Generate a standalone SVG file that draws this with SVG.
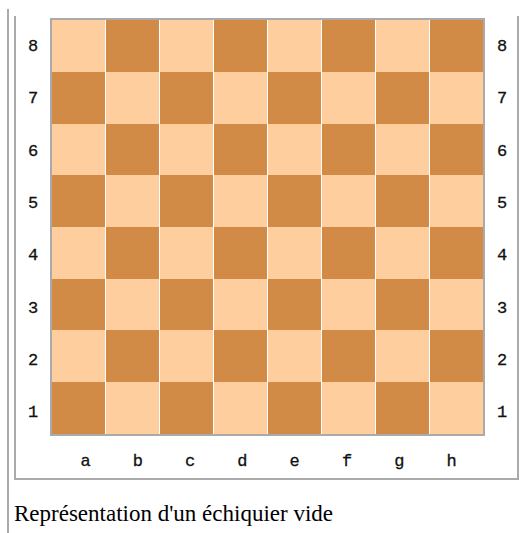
<svg xmlns="http://www.w3.org/2000/svg" width="520" height="533" viewBox="0 0 520 533">
<style>
.frame{fill:none;stroke:#aaaaaa;stroke-width:2}
.lt{fill:#ffce9e}
.dk{fill:#d18b47}
.lbl{font-family:"Liberation Mono","Courier New",monospace;font-size:17px;fill:#111;text-anchor:middle;stroke:#111;stroke-width:0.3}
.cap{font-family:"Liberation Serif","Times New Roman",serif;font-size:23px;fill:#000}
</style>
<rect x="0" y="0" width="520" height="533" fill="#fff"/>
<g id="frame">
<line class="frame" x1="8" y1="9" x2="8" y2="533"/>
<polyline class="frame" points="15,16 15,479 518,479 518,16"/>
</g>
<g id="board">
<rect x="51" y="19" width="433" height="416" fill="#fff" stroke="#aaaaaa" stroke-width="2"/>
<g id="rank8">
<rect class="lt" x="52" y="20" width="53" height="52"/><rect class="dk" x="106" y="20" width="53" height="52"/><rect class="lt" x="160" y="20" width="53" height="52"/><rect class="dk" x="214" y="20" width="53" height="52"/><rect class="lt" x="268" y="20" width="53" height="52"/><rect class="dk" x="322" y="20" width="53" height="52"/><rect class="lt" x="376" y="20" width="53" height="52"/><rect class="dk" x="430" y="20" width="53" height="52"/>
</g>
<g id="rank7">
<rect class="dk" x="52" y="72" width="53" height="52"/><rect class="lt" x="106" y="72" width="53" height="52"/><rect class="dk" x="160" y="72" width="53" height="52"/><rect class="lt" x="214" y="72" width="53" height="52"/><rect class="dk" x="268" y="72" width="53" height="52"/><rect class="lt" x="322" y="72" width="53" height="52"/><rect class="dk" x="376" y="72" width="53" height="52"/><rect class="lt" x="430" y="72" width="53" height="52"/>
</g>
<g id="rank6">
<rect class="lt" x="52" y="124" width="53" height="51"/><rect class="dk" x="106" y="124" width="53" height="51"/><rect class="lt" x="160" y="124" width="53" height="51"/><rect class="dk" x="214" y="124" width="53" height="51"/><rect class="lt" x="268" y="124" width="53" height="51"/><rect class="dk" x="322" y="124" width="53" height="51"/><rect class="lt" x="376" y="124" width="53" height="51"/><rect class="dk" x="430" y="124" width="53" height="51"/>
</g>
<g id="rank5">
<rect class="dk" x="52" y="175" width="53" height="52"/><rect class="lt" x="106" y="175" width="53" height="52"/><rect class="dk" x="160" y="175" width="53" height="52"/><rect class="lt" x="214" y="175" width="53" height="52"/><rect class="dk" x="268" y="175" width="53" height="52"/><rect class="lt" x="322" y="175" width="53" height="52"/><rect class="dk" x="376" y="175" width="53" height="52"/><rect class="lt" x="430" y="175" width="53" height="52"/>
</g>
<g id="rank4">
<rect class="lt" x="52" y="227" width="53" height="52"/><rect class="dk" x="106" y="227" width="53" height="52"/><rect class="lt" x="160" y="227" width="53" height="52"/><rect class="dk" x="214" y="227" width="53" height="52"/><rect class="lt" x="268" y="227" width="53" height="52"/><rect class="dk" x="322" y="227" width="53" height="52"/><rect class="lt" x="376" y="227" width="53" height="52"/><rect class="dk" x="430" y="227" width="53" height="52"/>
</g>
<g id="rank3">
<rect class="dk" x="52" y="279" width="53" height="51"/><rect class="lt" x="106" y="279" width="53" height="51"/><rect class="dk" x="160" y="279" width="53" height="51"/><rect class="lt" x="214" y="279" width="53" height="51"/><rect class="dk" x="268" y="279" width="53" height="51"/><rect class="lt" x="322" y="279" width="53" height="51"/><rect class="dk" x="376" y="279" width="53" height="51"/><rect class="lt" x="430" y="279" width="53" height="51"/>
</g>
<g id="rank2">
<rect class="lt" x="52" y="330" width="53" height="52"/><rect class="dk" x="106" y="330" width="53" height="52"/><rect class="lt" x="160" y="330" width="53" height="52"/><rect class="dk" x="214" y="330" width="53" height="52"/><rect class="lt" x="268" y="330" width="53" height="52"/><rect class="dk" x="322" y="330" width="53" height="52"/><rect class="lt" x="376" y="330" width="53" height="52"/><rect class="dk" x="430" y="330" width="53" height="52"/>
</g>
<g id="rank1">
<rect class="dk" x="52" y="382" width="53" height="52"/><rect class="lt" x="106" y="382" width="53" height="52"/><rect class="dk" x="160" y="382" width="53" height="52"/><rect class="lt" x="214" y="382" width="53" height="52"/><rect class="dk" x="268" y="382" width="53" height="52"/><rect class="lt" x="322" y="382" width="53" height="52"/><rect class="dk" x="376" y="382" width="53" height="52"/><rect class="lt" x="430" y="382" width="53" height="52"/>
</g>
</g>
<g id="rank-labels-left">
<text class="lbl" x="33" y="51">8</text><text class="lbl" x="33" y="103.3">7</text><text class="lbl" x="33" y="155.6">6</text><text class="lbl" x="33" y="207.9">5</text><text class="lbl" x="33" y="260.2">4</text><text class="lbl" x="33" y="312.5">3</text><text class="lbl" x="33" y="364.8">2</text><text class="lbl" x="33" y="417.1">1</text>
</g>
<g id="rank-labels-right">
<text class="lbl" x="502" y="51">8</text><text class="lbl" x="502" y="103.3">7</text><text class="lbl" x="502" y="155.6">6</text><text class="lbl" x="502" y="207.9">5</text><text class="lbl" x="502" y="260.2">4</text><text class="lbl" x="502" y="312.5">3</text><text class="lbl" x="502" y="364.8">2</text><text class="lbl" x="502" y="417.1">1</text>
</g>
<g id="file-labels">
<text class="lbl" x="85.5" y="466">a</text><text class="lbl" x="137.8" y="466">b</text><text class="lbl" x="190.1" y="466">c</text><text class="lbl" x="242.4" y="466">d</text><text class="lbl" x="294.7" y="466">e</text><text class="lbl" x="347" y="466">f</text><text class="lbl" x="399.3" y="466">g</text><text class="lbl" x="451.6" y="466">h</text>
</g>
<g id="caption">
<text class="cap" x="14" y="521">Représentation d'un échiquier vide</text>
</g>
</svg>
